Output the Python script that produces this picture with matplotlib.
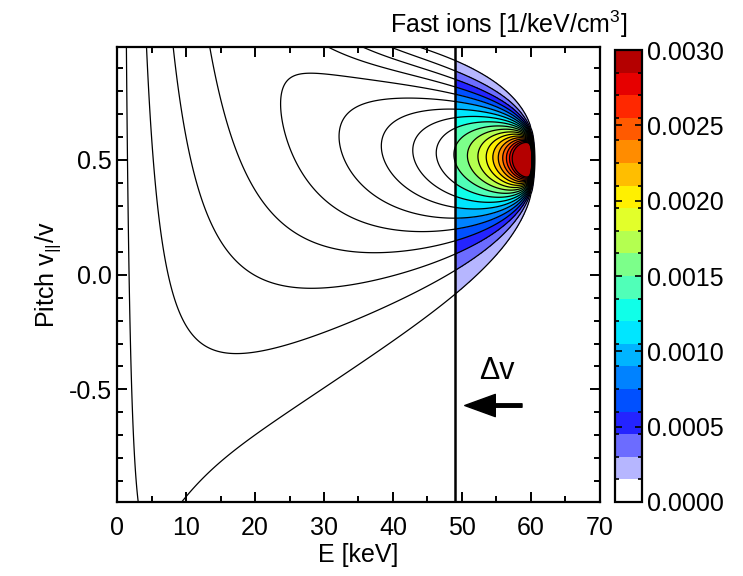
import numpy as np
import matplotlib
matplotlib.use("Agg")
import matplotlib.pyplot as plt
from matplotlib.colors import ListedColormap, BoundaryNorm
from matplotlib.ticker import MultipleLocator, FixedLocator

plt.rcParams['font.family'] = ['Liberation Sans', 'DejaVu Sans']
plt.rcParams['mathtext.fontset'] = 'custom'
plt.rcParams['mathtext.rm'] = 'Liberation Sans'

# slowing-down distribution (Legendre expansion), parameters
E_inj = 60.0        # injection energy [keV]
pitch_inj = 0.5     # injection pitch
E_crit = 60.0       # critical energy [keV]
beta = 1.45         # pitch-angle scattering strength
t_src = 0.002       # initial spread in pitch angle
E_spread = 0.25     # energy spread of the source [keV]
E_edge = 60.1
norm_fi = 0.106     # normalisation [1/keV/cm^3]
E_cut = 49.0        # position of the vertical line

levels = np.linspace(0, 0.003, 21)
band_colors = ['#ffffff', '#b6b6ff', '#6c6cff', '#2424ff', '#0050ff',
               '#0082ff', '#00b4ff', '#00e6ff', '#10ffe8', '#50ffb8',
               '#7cff8a', '#b4ff50', '#e2ff2a', '#fff000', '#ffbe00',
               '#ff8c00', '#ff5a00', '#ff2800', '#e60000', '#b40000']
cbar_ticks = [0.0, 0.0005, 0.0010, 0.0015, 0.0020, 0.0025, 0.0030]
x_ticks = [0, 10, 20, 30, 40, 50, 60, 70]
y_ticks = [-0.5, 0.0, 0.5]
arrow_E = [58.7, 50.4]
arrow_pitch = -0.57
dv_pos = [55.0, -0.42]


def fast_ion_distribution(energy, pitch, n_l=160):
    ell = np.arange(n_l)
    P = np.zeros((n_l, pitch.size))
    P0 = np.zeros(n_l)
    P[0], P[1] = 1.0, pitch
    P0[0], P0[1] = 1.0, pitch_inj
    for l in range(1, n_l - 1):
        P[l + 1] = ((2 * l + 1) * pitch * P[l] - l * P[l - 1]) / (l + 1)
        P0[l + 1] = ((2 * l + 1) * pitch_inj * P0[l] - l * P0[l - 1]) / (l + 1)

    Ee = np.minimum(energy, E_inj)
    u = Ee ** 1.5 * (E_inj ** 1.5 + E_crit ** 1.5) / (E_inj ** 1.5 * (Ee ** 1.5 + E_crit ** 1.5))
    t = -beta / 6.0 * np.log(u) + t_src
    D = np.exp(-np.outer(t, ell * (ell + 1)))
    S = (D * ((ell + 0.5) * P0)) @ P

    amp = norm_fi * np.sqrt(energy) / (energy ** 1.5 + E_crit ** 1.5)
    amp *= 0.5 * (1 - np.tanh((energy - E_edge) / E_spread))
    return (amp[:, None] * S).T


energy = np.linspace(0.05, 70, 1400)
pitch = np.linspace(-0.99, 0.99, 397)
F = fast_ion_distribution(energy, pitch)

cmap = ListedColormap(band_colors)
bnorm = BoundaryNorm(levels, cmap.N)

fig = plt.figure(figsize=(7.43, 5.76), dpi=100)
ax = fig.add_axes([0.1575, 0.1285, 0.65, 0.7895])

mask = energy >= E_cut - 0.03
cf = ax.contourf(energy[mask], pitch, np.minimum(F[:, mask], 0.00299),
                 levels=levels, cmap=cmap, norm=bnorm)
ax.contour(energy, pitch, F, levels=levels[1:-1], colors='black', linewidths=0.9)
ax.axvline(E_cut, color='black', lw=1.8)

ax.annotate('', xy=(arrow_E[1], arrow_pitch), xytext=(arrow_E[0], arrow_pitch),
            arrowprops=dict(facecolor='black', edgecolor='black', width=2.5,
                            headwidth=16, headlength=22, shrink=0))
ax.text(dv_pos[0], dv_pos[1], 'Δv', fontsize=22, ha='center', va='center')

ax.set_xlim(0, 70)
ax.set_ylim(-0.99, 0.99)
ax.set_xticks(x_ticks)
ax.set_yticks(y_ticks)
ax.set_yticklabels(['-0.5', '0.0', '0.5'])
ax.xaxis.set_minor_locator(MultipleLocator(5))
ax.yaxis.set_minor_locator(MultipleLocator(0.1))
ax.tick_params(which='both', direction='in', top=True, right=True, labelsize=18, width=1.4)
ax.tick_params(which='major', length=7)
ax.tick_params(which='minor', length=4)
ax.tick_params(axis='x', pad=10)
for s in ax.spines.values():
    s.set_linewidth(1.6)
ax.set_xlabel('E [keV]', fontsize=18, labelpad=2)
ax.set_ylabel('Pitch $\\mathrm{v}_{\\mathrm{||}}$/v', fontsize=18, labelpad=4)

cax = fig.add_axes([0.8277, 0.1285, 0.0363, 0.7845])
cb = fig.colorbar(cf, cax=cax, ticks=cbar_ticks)
cb.ax.set_yticklabels(['%.4f' % v for v in cbar_ticks])
cb.ax.yaxis.set_minor_locator(FixedLocator(levels))
cb.ax.tick_params(which='both', direction='in', left=True, right=True, labelsize=18, width=1.2)
cb.ax.tick_params(which='major', length=5)
cb.ax.tick_params(which='minor', length=3)
cb.outline.set_linewidth(1.6)

fig.text(0.684, 0.957, 'Fast ions [1/keV/cm$^{\\mathrm{3}}$]', fontsize=18, ha='center', va='center')

fig.savefig('out.png', dpi=100)
